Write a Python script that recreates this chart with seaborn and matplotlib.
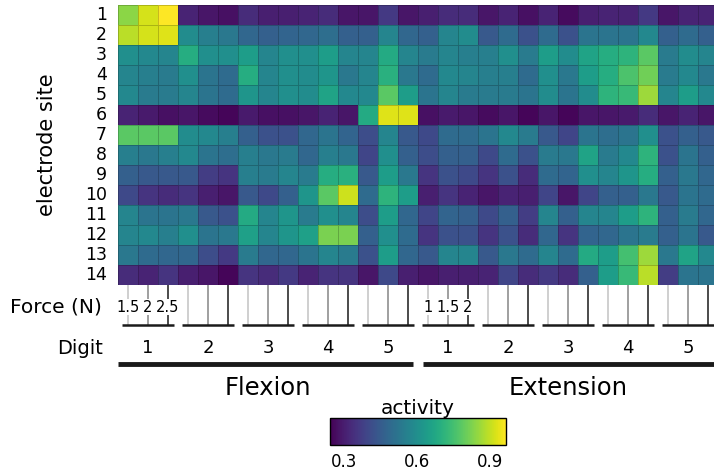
import numpy as np
import pandas as pd
import matplotlib
matplotlib.use("Agg")
import matplotlib.pyplot as plt
import seaborn as sns

# ---------------- data ----------------
sites = list(range(1, 15))
digits = [1, 2, 3, 4, 5]
movements = ["Flexion", "Extension"]
flexion_forces = ["1.5", "2", "2.5"]
extension_forces = ["1", "1.5", "2"]

# activity, rows = electrode sites 1..14, cols = digit 1..5 x 3 forces
flexion = [
    [0.84, 0.92, 0.97, 0.31, 0.28, 0.27, 0.33, 0.30, 0.30, 0.31, 0.33, 0.28, 0.28, 0.36, 0.28],
    [0.89, 0.92, 0.93, 0.59, 0.55, 0.53, 0.48, 0.46, 0.47, 0.48, 0.50, 0.46, 0.46, 0.57, 0.48],
    [0.60, 0.58, 0.57, 0.69, 0.60, 0.60, 0.64, 0.57, 0.60, 0.60, 0.64, 0.57, 0.57, 0.68, 0.57],
    [0.57, 0.55, 0.54, 0.60, 0.52, 0.49, 0.69, 0.57, 0.60, 0.59, 0.62, 0.53, 0.57, 0.70, 0.53],
    [0.58, 0.54, 0.54, 0.57, 0.52, 0.49, 0.62, 0.57, 0.60, 0.59, 0.66, 0.58, 0.58, 0.78, 0.64],
    [0.31, 0.29, 0.27, 0.28, 0.26, 0.25, 0.29, 0.27, 0.27, 0.28, 0.31, 0.28, 0.68, 0.93, 0.93],
    [0.78, 0.78, 0.78, 0.59, 0.58, 0.55, 0.46, 0.42, 0.42, 0.48, 0.52, 0.47, 0.41, 0.57, 0.44],
    [0.55, 0.53, 0.55, 0.58, 0.52, 0.50, 0.55, 0.53, 0.54, 0.48, 0.55, 0.53, 0.39, 0.60, 0.46],
    [0.46, 0.44, 0.44, 0.44, 0.37, 0.35, 0.55, 0.54, 0.57, 0.54, 0.69, 0.70, 0.44, 0.64, 0.53],
    [0.40, 0.35, 0.33, 0.35, 0.30, 0.28, 0.44, 0.40, 0.46, 0.62, 0.78, 0.91, 0.49, 0.71, 0.64],
    [0.57, 0.52, 0.52, 0.53, 0.44, 0.42, 0.68, 0.57, 0.62, 0.54, 0.60, 0.57, 0.41, 0.64, 0.48],
    [0.57, 0.58, 0.55, 0.60, 0.52, 0.53, 0.65, 0.57, 0.62, 0.65, 0.82, 0.82, 0.46, 0.60, 0.49],
    [0.53, 0.49, 0.48, 0.48, 0.41, 0.36, 0.54, 0.48, 0.48, 0.52, 0.57, 0.54, 0.42, 0.64, 0.48],
    [0.33, 0.31, 0.35, 0.30, 0.28, 0.25, 0.35, 0.33, 0.36, 0.31, 0.35, 0.35, 0.28, 0.40, 0.30],
]
extension = [
    [0.30, 0.33, 0.33, 0.28, 0.31, 0.27, 0.31, 0.26, 0.30, 0.31, 0.31, 0.36, 0.28, 0.31, 0.31],
    [0.46, 0.57, 0.59, 0.44, 0.49, 0.42, 0.49, 0.42, 0.52, 0.52, 0.52, 0.58, 0.46, 0.49, 0.46],
    [0.54, 0.57, 0.55, 0.55, 0.60, 0.54, 0.64, 0.59, 0.66, 0.69, 0.71, 0.78, 0.54, 0.59, 0.57],
    [0.49, 0.58, 0.57, 0.55, 0.55, 0.49, 0.60, 0.53, 0.64, 0.69, 0.76, 0.81, 0.54, 0.58, 0.53],
    [0.52, 0.57, 0.54, 0.54, 0.54, 0.52, 0.59, 0.52, 0.59, 0.71, 0.73, 0.86, 0.57, 0.64, 0.58],
    [0.27, 0.29, 0.28, 0.26, 0.28, 0.25, 0.28, 0.25, 0.28, 0.28, 0.29, 0.33, 0.28, 0.31, 0.28],
    [0.40, 0.49, 0.49, 0.52, 0.58, 0.54, 0.44, 0.39, 0.52, 0.50, 0.52, 0.60, 0.42, 0.46, 0.44],
    [0.41, 0.46, 0.46, 0.40, 0.49, 0.42, 0.54, 0.53, 0.66, 0.54, 0.58, 0.71, 0.42, 0.52, 0.46],
    [0.35, 0.42, 0.40, 0.35, 0.42, 0.33, 0.49, 0.47, 0.60, 0.57, 0.62, 0.69, 0.46, 0.53, 0.48],
    [0.30, 0.35, 0.31, 0.28, 0.31, 0.30, 0.39, 0.28, 0.39, 0.46, 0.46, 0.53, 0.44, 0.52, 0.49],
    [0.39, 0.47, 0.46, 0.40, 0.46, 0.37, 0.57, 0.46, 0.57, 0.57, 0.64, 0.71, 0.46, 0.54, 0.48],
    [0.35, 0.42, 0.42, 0.35, 0.42, 0.33, 0.48, 0.35, 0.47, 0.48, 0.52, 0.54, 0.46, 0.52, 0.44],
    [0.44, 0.57, 0.57, 0.44, 0.53, 0.49, 0.57, 0.49, 0.68, 0.64, 0.75, 0.86, 0.53, 0.66, 0.58],
    [0.28, 0.30, 0.30, 0.31, 0.39, 0.33, 0.36, 0.33, 0.46, 0.64, 0.73, 0.89, 0.37, 0.52, 0.52],
]
vmin, vmax = 0.24, 0.966
cbar_ticks = [0.3, 0.6, 0.9]
cbar_minor = [0.4, 0.5, 0.7, 0.8]

# ---------------- figure ----------------
sns.set_theme(style="white")
plt.rcParams["font.family"] = ["DejaVu Sans"]

forces = [flexion_forces, extension_forces]
cols = [f"{m}-{d}-{k}" for m in movements for d in digits for k in range(3)]
df = pd.DataFrame(np.hstack([np.array(flexion), np.array(extension)]),
                  index=sites, columns=cols)

W, H = 714, 476
fig = plt.figure(figsize=(W / 100, H / 100), dpi=100)
ax = fig.add_axes([118 / W, 1 - 285 / H, 600 / W, 280 / H])
cax = fig.add_axes([330 / W, 1 - 445 / H, 176 / W, 27 / H])

sns.heatmap(df, ax=ax, cmap="viridis", vmin=vmin, vmax=vmax,
            cbar_ax=cax, cbar_kws={"orientation": "horizontal", "ticks": cbar_ticks},
            linewidths=0.6, linecolor=(0, 0, 0, 0.2),
            xticklabels=False, yticklabels=sites)
ax.set_xlabel("")
ax.set_ylabel("")
ax.tick_params(axis="y", length=0, pad=8, labelsize=12.5, labelrotation=0, colors="black")
ax.tick_params(axis="x", length=0)

n_rows = len(sites)
y_force_top, y_bracket = n_rows, n_rows + 2.0
y_force_txt, y_digit_txt = n_rows + 1.1, n_rows + 3.15
y_long, y_mov = n_rows + 3.95, n_rows + 5.15
gray = ["#c2c2c2", "#858585", "#1a1a1a"]

ncol_m = len(digits) * 3
for mi, mov in enumerate(movements):
    base = mi * ncol_m
    for di, d in enumerate(digits):
        x0 = base + 3 * di
        for k in range(3):
            xc = x0 + k + 0.5
            ax.plot([xc, xc], [y_force_top, y_bracket], color=gray[k], lw=1.1,
                    clip_on=False, zorder=1, solid_capstyle="butt")
        ax.plot([x0 + 0.2, x0 + 2.8], [y_bracket, y_bracket], color="#1a1a1a",
                lw=1.8, clip_on=False, solid_capstyle="butt")
        ax.text(x0 + 1.5, y_digit_txt, str(d), ha="center", va="center",
                fontsize=13, color="black", clip_on=False)
    for k, f in enumerate(forces[mi]):
        ax.text(base + k + 0.5, y_force_txt, f, ha="center", va="center",
                fontsize=10.5, color="black", zorder=3,
                bbox=dict(facecolor="white", edgecolor="none", pad=0.4))
    lx0 = base + (0.0 if mi == 0 else 0.25)
    lx1 = base + ncol_m - (0.25 if mi == 0 else 0.0)
    ax.plot([lx0, lx1], [y_long, y_long], color="#1a1a1a", lw=3.5,
            clip_on=False, solid_capstyle="butt")
    ax.text(base + ncol_m / 2, y_mov, mov, ha="center", va="center",
            fontsize=17.5, color="black")

ax.text(-0.8, y_force_txt, "Force (N)", ha="right", va="center", fontsize=14.5, color="black")
ax.text(-0.75, y_digit_txt, "Digit", ha="right", va="center", fontsize=14, color="black")
fig.text(47 / W, 1 - 145 / H, "electrode site", rotation=90, ha="center",
         va="center", fontsize=15, color="black")

# colorbar styling
cbar = ax.collections[0].colorbar
cbar.outline.set_edgecolor("black")
cbar.outline.set_linewidth(1.0)
cax.set_xticks(cbar_minor, minor=True)
cax.tick_params(which="both", direction="in", length=4, width=1, color="black",
                bottom=True, top=False, labelsize=12, pad=6, labelcolor="black")
cax.set_title("activity", fontsize=14.5, pad=3, color="black")

fig.savefig("out.png", dpi=100)
